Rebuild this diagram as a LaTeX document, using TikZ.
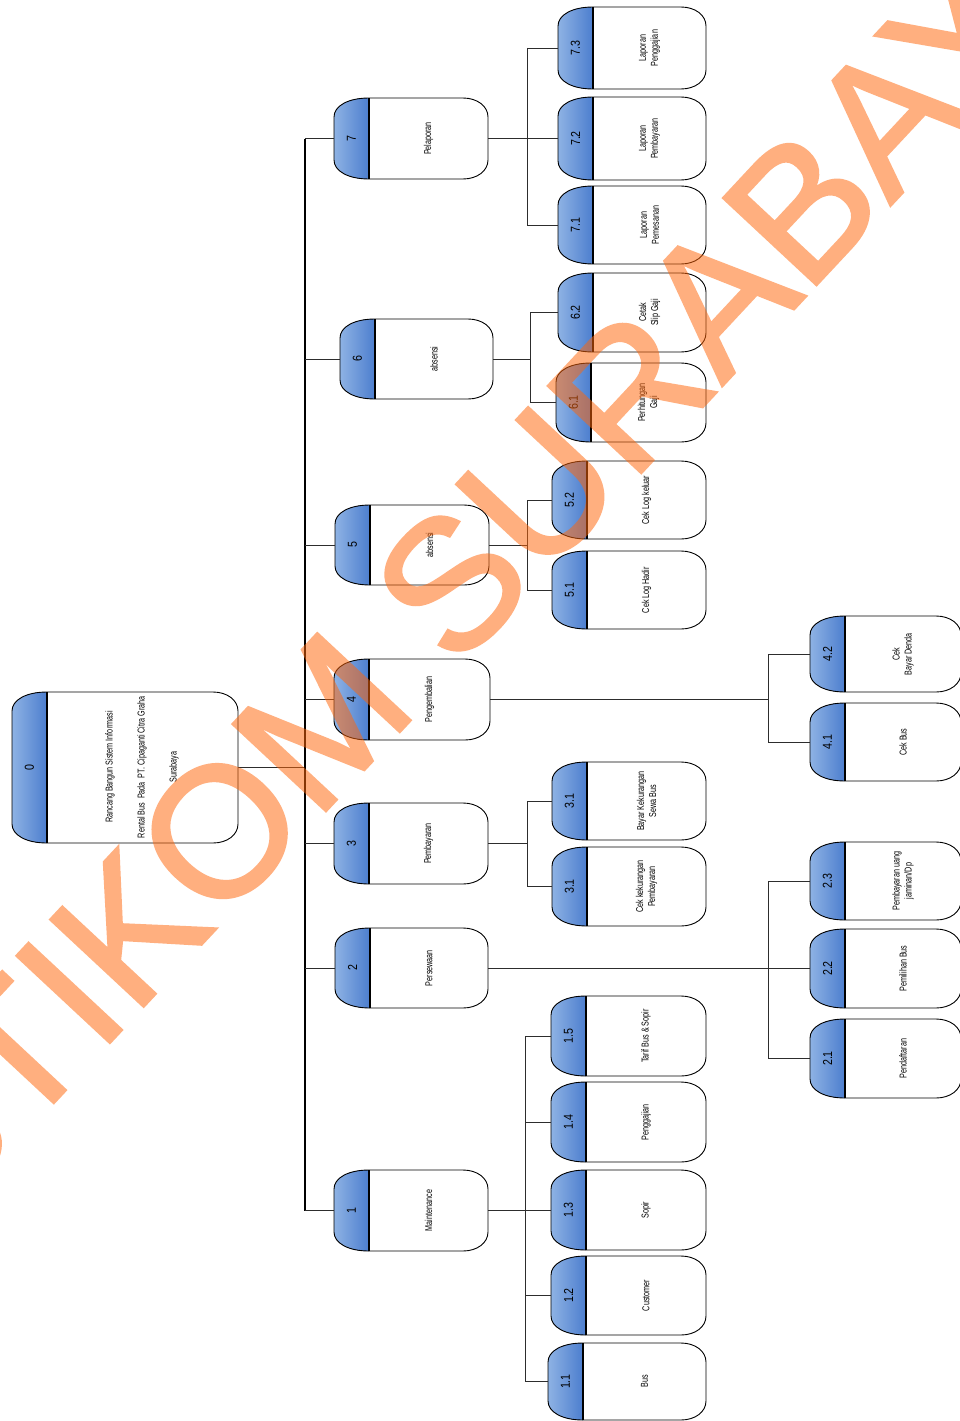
\documentclass[tikz,border=0pt]{standalone}
\usepackage{fontspec}
\newfontfamily\nar[FakeStretch=0.72]{Liberation Sans}
\newfontfamily\numf[FakeStretch=0.82]{Liberation Sans}
\newfontfamily\wmf[FakeBold=1.5]{Liberation Sans}
\usetikzlibrary{calc}
\definecolor{hdrL}{RGB}{142,178,228}
\definecolor{hdrR}{RGB}{76,126,206}
\definecolor{wmorange}{RGB}{255,102,10}
\definecolor{conncol}{RGB}{45,45,45}
\tikzset{
  anchorbox/.style={draw=none, inner sep=0pt, outer sep=0pt, rectangle},
  hdr/.style={left color=hdrL, right color=hdrR},
  boxline/.style={draw=black, line width=0.9pt},
  sepline/.style={draw=black, line width=1.4pt},
  numtxt/.style={rotate=90, inner sep=0pt, font=\numf\fontsize{13}{14}\selectfont},
  bodytxt/.style={rotate=90, inner sep=0pt, align=center, font=\nar\fontsize{10}{12}\selectfont},
  conn/.style={draw=conncol, line width=0.8pt},
  trunk/.style={draw=black, line width=1.3pt},
  wmark/.style={rotate=47, inner sep=0pt, text=wmorange, font=\wmf\fontsize{185}{185}\selectfont}
}
\newcommand\procbox[7]{%
  \pgfmathsetmacro\Lx{#2}\pgfmathsetmacro\Rx{#3}\pgfmathsetmacro\Ty{#4}\pgfmathsetmacro\By{#5}%
  \pgfmathsetmacro\Hx{\Lx+35}\pgfmathsetmacro\Cx{(\Lx+\Rx)/2}\pgfmathsetmacro\Cy{(\Ty+\By)/2}%
  \pgfmathsetmacro\Wd{\Rx-\Lx}\pgfmathsetmacro\Ht{\By-\Ty}%
  \node[anchorbox, minimum width=\Wd pt, minimum height=\Ht pt] (#1) at (\Cx,\Cy) {};
  \fill[hdr] (\Lx,\Ty+19) .. controls (\Lx,\Ty+8) and (\Lx+14,\Ty) .. (\Hx,\Ty) -- (\Hx,\By) .. controls (\Lx+14,\By) and (\Lx,\By-8) .. (\Lx,\By-19) -- cycle;
  \draw[boxline] (\Lx,\Ty+19) .. controls (\Lx,\Ty+8) and (\Lx+14,\Ty) .. (\Hx,\Ty) -- (\Rx-25,\Ty) .. controls (\Rx-11,\Ty) and (\Rx,\Ty+8) .. (\Rx,\Ty+19) -- (\Rx,\By-19) .. controls (\Rx,\By-8) and (\Rx-11,\By) .. (\Rx-25,\By) -- (\Hx,\By) .. controls (\Lx+14,\By) and (\Lx,\By-8) .. (\Lx,\By-19) -- cycle;
  \draw[sepline] (\Hx,\Ty) -- (\Hx,\By);
  \node[numtxt] (#1n) at ({(\Lx+\Hx)/2},\Cy) {#6};
  \node[bodytxt] (#1t) at ({(\Hx+\Rx)/2},\Cy) {#7};
}
\begin{document}
\begin{tikzpicture}[x=1pt,y=-1pt]
\useasboundingbox (0,0) rectangle (960,1421);
\fill[white] (0,0) rectangle (960,1421);

% root
\procbox{n0}{12}{238}{692}{843}{0}{}
\node[bodytxt] (n0txt) at (142,767) {Rancang Bangun Sistem Informasi\\[20pt]Rental Bus\ \ Pada\ \ PT. Cipaganti Citra Graha\\[20pt]Surabaya};

% level 1
\procbox{n7}{334}{488}{98}{179}{7}{Pelaporan}
\procbox{n6}{340}{493}{319}{399}{6}{absensi}
\procbox{n5}{335}{489}{505}{585}{5}{absensi}
\procbox{n4}{334}{490}{659}{740}{4}{Pengembalian}
\procbox{n3}{334}{488}{803}{884}{3}{Pembayaran}
\procbox{n2}{335}{488}{928}{1008}{2}{Persewaan}
\procbox{n1}{334}{488}{1170}{1251}{1}{Maintenance}

% level 2
\procbox{n73}{558}{706}{7}{89}{7.3}{Laporan\\Penggajian}
\procbox{n72}{558}{706}{97}{180}{7.2}{Laporan\\Pembayaran}
\procbox{n71}{558}{706}{186}{264}{7.1}{Laporan\\Pemesanan}
\procbox{n62}{558}{706}{273}{352}{6.2}{Cetak\\Slip Gaji}
\procbox{n61}{556}{706}{363}{442}{6.1}{Perhitungan\\Gaji}
\procbox{n52}{552}{706}{461}{539}{5.2}{Cek Log keluar}
\procbox{n51}{552}{706}{551}{629}{5.1}{Cek Log Hadir}
\procbox{n42}{810}{961}{616}{692}{4.2}{Cek\\Bayar Denda}
\procbox{n41}{810}{961}{703}{781}{4.1}{Cek Bus}
\procbox{n31a}{552}{706}{762}{840}{3.1}{Bayar Kekurangan\\Sewa Bus}
\procbox{n31b}{552}{706}{847}{926}{3.1}{Cek kekurangan\\Pembayaran}
\procbox{n23}{810}{961}{842}{920}{2.3}{Pembayaran uang\\jaminan/Dp}
\procbox{n22}{810}{961}{929}{1008}{2.2}{Pemilihan Bus}
\procbox{n21}{810}{961}{1019}{1098}{2.1}{Pendaftaran}
\procbox{n15}{551}{706}{996}{1076}{1.5}{Tarif Bus \& Sopir}
\procbox{n14}{551}{706}{1082}{1162}{1.4}{Penggajian}
\procbox{n13}{551}{706}{1170}{1250}{1.3}{Sopir}
\procbox{n12}{551}{706}{1256}{1335}{1.2}{Customer}
\procbox{n11}{548}{706}{1343}{1420}{1.1}{Bus}

% bus x positions
\coordinate (x0) at (305,0);
\coordinate (x7) at (527,0);
\coordinate (x6) at (530,0);
\coordinate (x5) at (527,0);
\coordinate (x4) at (768,0);
\coordinate (x3) at (527,0);
\coordinate (x2) at (768,0);
\coordinate (x1) at (525,0);

% root trunk
\draw[conn] (n0.east) -- (x0 |- n0.east);
\draw[trunk] (x0 |- n7.west) -- (x0 |- n1.west);
\foreach \c in {n1,n2,n3,n4,n5,n6,n7} {\draw[conn] (x0 |- \c.west) -- (\c.west);}

% 7
\draw[conn] (n7.east) -- (x7 |- n7.east);
\draw[conn] (x7 |- n73.west) -- (x7 |- n71.west);
\foreach \c in {n73,n72,n71} {\draw[conn] (x7 |- \c.west) -- (\c.west);}
% 6
\draw[conn] (n6.east) -- (x6 |- n6.east);
\draw[conn] (x6 |- n62.west) -- (x6 |- n61.west);
\foreach \c in {n62,n61} {\draw[conn] (x6 |- \c.west) -- (\c.west);}
% 5
\draw[conn] (n5.east) -- (x5 |- n5.east);
\draw[conn] (x5 |- n52.west) -- (x5 |- n51.west);
\foreach \c in {n52,n51} {\draw[conn] (x5 |- \c.west) -- (\c.west);}
% 4
\draw[conn] (n4.east) -- (x4 |- n4.east);
\draw[conn] (x4 |- n42.west) -- (x4 |- n41.west);
\foreach \c in {n42,n41} {\draw[conn] (x4 |- \c.west) -- (\c.west);}
% 3
\draw[conn] (n3.east) -- (x3 |- n3.east);
\draw[conn] (x3 |- n31a.west) -- (x3 |- n31b.west);
\foreach \c in {n31a,n31b} {\draw[conn] (x3 |- \c.west) -- (\c.west);}
% 2
\draw[conn] (n2.east) -- (x2 |- n2.east);
\draw[conn] (x2 |- n23.west) -- (x2 |- n21.west);
\foreach \c in {n23,n22,n21} {\draw[conn] (x2 |- \c.west) -- (\c.west);}
% 1
\draw[conn] (n1.east) -- (x1 |- n1.east);
\draw[conn] (x1 |- n15.west) -- (x1 |- n11.west);
\foreach \c in {n15,n14,n13,n12,n11} {\draw[conn] (x1 |- \c.west) -- (\c.west);}

% watermark
\begin{scope}[transparency group, opacity=0.52]
\node[wmark] (wm) at (484,548) {STIKOM SURABAYA};
\end{scope}
\end{tikzpicture}
\end{document}
